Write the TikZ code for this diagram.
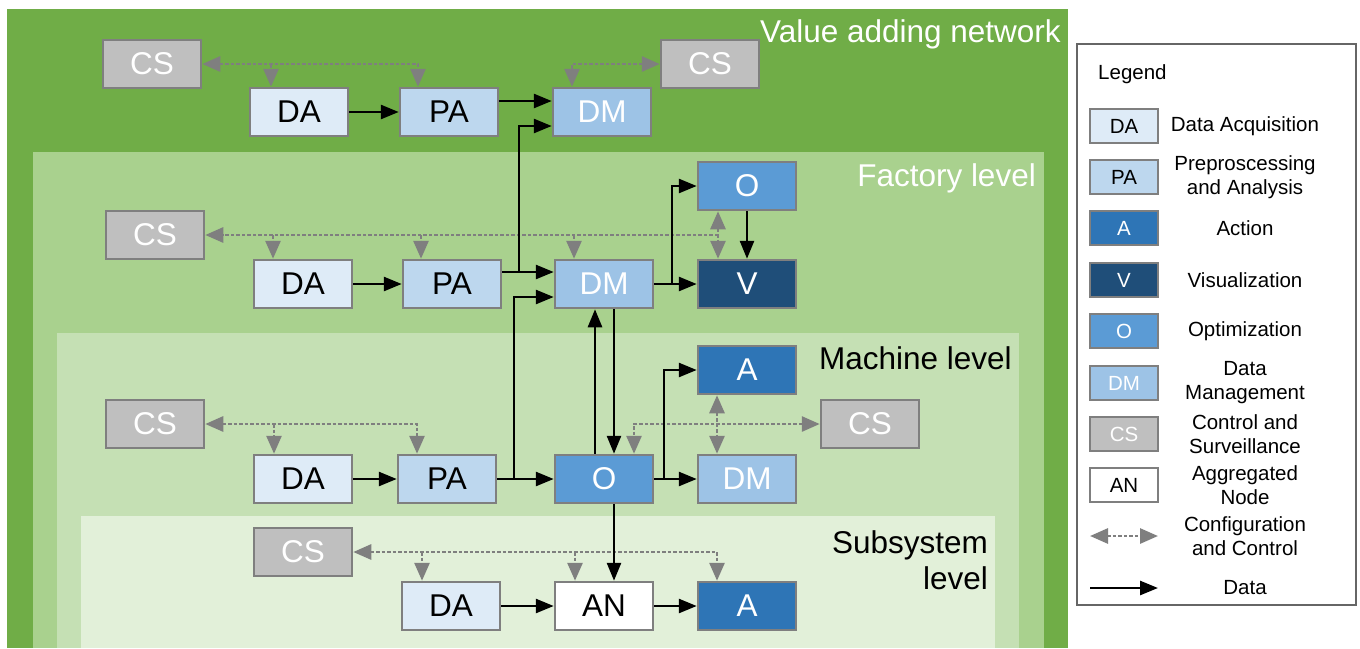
\documentclass[tikz,border=0pt]{standalone}
\usepackage{fontspec}
\setmainfont{Liberation Sans}
\usetikzlibrary{arrows.meta}
\definecolor{gA}{HTML}{70AD47}
\definecolor{gB}{HTML}{A9D18E}
\definecolor{gC}{HTML}{C5E0B4}
\definecolor{gD}{HTML}{E2F0D9}
\definecolor{cDA}{HTML}{DEEBF7}
\definecolor{cPA}{HTML}{BDD7EE}
\definecolor{cDM}{HTML}{9DC3E6}
\definecolor{cO}{HTML}{5B9BD5}
\definecolor{cA}{HTML}{2E75B6}
\definecolor{cV}{HTML}{1F4E79}
\definecolor{cCS}{HTML}{BFBFBF}
\definecolor{bgray}{HTML}{7F7F7F}
\tikzset{
  box/.style={draw=bgray, line width=2.5pt, minimum width=98pt, minimum height=48pt, inner sep=0pt, font=\fontsize{31.5}{36}\selectfont},
  lbox/.style={draw=bgray, line width=2.5pt, minimum width=68pt, minimum height=34pt, inner sep=0pt, font=\fontsize{20.5}{24}\selectfont},
  bDA/.style={fill=cDA, text=black},
  bPA/.style={fill=cPA, text=black},
  bDM/.style={fill=cDM, text=white},
  bO/.style={fill=cO, text=white},
  bA/.style={fill=cA, text=white},
  bV/.style={fill=cV, text=white},
  bCS/.style={fill=cCS, text=white},
  bAN/.style={fill=white, text=black},
  data/.style={line width=2.7pt, draw=black, -{Triangle[length=18pt,width=14pt]}},
  cfg/.style={line width=2.8pt, draw=bgray, dash pattern=on 3.5pt off 2pt, {Triangle[length=18pt,width=15pt]}-{Triangle[length=18pt,width=15pt]}},
  cfgd/.style={line width=2.8pt, draw=bgray, dash pattern=on 3.5pt off 2pt, -{Triangle[length=18pt,width=15pt]}},
  lvl/.style={font=\fontsize{31.5}{36}\selectfont, anchor=east, inner sep=0pt},
  ltxt/.style={font=\fontsize{20.5}{24}\selectfont, align=center, inner sep=0pt},
}
\begin{document}
\begin{tikzpicture}[x=1pt,y=-1pt]
\useasboundingbox (0,0) rectangle (1360,648);
\fill[white] (0,0) rectangle (1360,648);
% level backgrounds
\fill[gA] (7,9) rectangle (1068,648);
\fill[gB] (33,152) rectangle (1044,648);
\fill[gC] (57,333) rectangle (1019,648);
\fill[gD] (81,516) rectangle (995,648);
\node[lvl, text=white] (tV) at (1061,34) {Value adding network};
\node[lvl, text=white] (tF) at (1036,178) {Factory level};
\node[lvl, text=black] (tM) at (1012,358) {Machine level};
\node[lvl, text=black, align=right] (tS) at (988,560) {Subsystem\\level};
% value adding network
\node[box,bCS] (vCS1) at (152,64) {CS};
\node[box,bDA] (vDA) at (299,112) {DA};
\node[box,bPA] (vPA) at (449,112) {PA};
\node[box,bDM] (vDM) at (602,112) {DM};
\node[box,bCS] (vCS2) at (710,64) {CS};
% factory
\node[box,bCS] (fCS) at (155,235) {CS};
\node[box,bDA] (fDA) at (303,284) {DA};
\node[box,bPA] (fPA) at (452,284) {PA};
\node[box,bDM] (fDM) at (604,284) {DM};
\node[box,bO] (fO) at (747,186) {O};
\node[box,bV] (fV) at (747,284) {V};
% machine
\node[box,bCS] (mCS1) at (155,424) {CS};
\node[box,bDA] (mDA) at (303,479) {DA};
\node[box,bPA] (mPA) at (447,479) {PA};
\node[box,bO] (mO) at (604,479) {O};
\node[box,bA] (mA) at (747,370) {A};
\node[box,bDM] (mDM) at (747,479) {DM};
\node[box,bCS] (mCS2) at (870,424) {CS};
% subsystem
\node[box,bCS] (sCS) at (303,552) {CS};
\node[box,bDA] (sDA) at (451,606) {DA};
\node[box,bAN] (sAN) at (604,606) {AN};
\node[box,bA] (sA) at (747,606) {A};
% junction coordinates
\coordinate (j1) at (519,272);
\coordinate (j2) at (514,479);
\coordinate (j3) at (672,284);
\coordinate (j4) at (664,479);
% ---- configuration / control (gray dashed)
\draw[cfg] (vCS1.east) -| ([xshift=-31pt]vPA.north);
\draw[cfgd] ([xshift=-28pt]vDA.north |- vCS1.east) -- ([xshift=-28pt]vDA.north);
\draw[cfg] (vCS2.west) -| ([xshift=-30pt]vDM.north);
\coordinate (fE) at ([xshift=-29pt]fO.south |- fCS.east);
\draw[cfgd] (fE) -- (fCS.east);
\draw[cfgd] ([xshift=-30pt]fDA.north |- fCS.east) -- ([xshift=-30pt]fDA.north);
\draw[cfgd] ([xshift=-31pt]fPA.north |- fCS.east) -- ([xshift=-31pt]fPA.north);
\draw[cfgd] ([xshift=-30pt]fDM.north |- fCS.east) -- ([xshift=-30pt]fDM.north);
\draw[cfg] ([xshift=-29pt]fO.south) -- ([xshift=-29pt]fV.north);
\draw[cfg] (mCS1.east) -| ([xshift=-30pt]mPA.north);
\draw[cfgd] ([xshift=-29pt]mDA.north |- mCS1.east) -- ([xshift=-29pt]mDA.north);
\draw[cfg] (mCS2.west) -| ([xshift=30pt]mO.north);
\draw[cfg] ([xshift=-30pt]mA.south) -- ([xshift=-30pt]mDM.north);
\draw[cfg] (sCS.east) -| ([xshift=-30pt]sA.north);
\draw[cfgd] ([xshift=-29pt]sDA.north |- sCS.east) -- ([xshift=-29pt]sDA.north);
\draw[cfgd] ([xshift=-29pt]sAN.north |- sCS.east) -- ([xshift=-29pt]sAN.north);
% ---- data (black)
\draw[data] (vDA) -- (vPA);
\draw[data] ([yshift=11pt]vPA.east) -- ([yshift=11pt]vDM.west);
\draw[data] (fDA) -- (fPA);
\draw[data] ([yshift=12pt]fPA.east) -- ([yshift=12pt]fDM.west);
\draw[data] (j1) |- ([yshift=-14pt]vDM.west);
\draw[data] (j2) |- ([yshift=-13pt]fDM.west);
\draw[data] (fDM) -- (fV);
\draw[data] (j3) |- (fO.west);
\draw[data] (fO) -- (fV);
\draw[data] ([xshift=-9pt]mO.north) -- ([xshift=-9pt]fDM.south);
\draw[data] ([xshift=10pt]fDM.south) -- ([xshift=10pt]mO.north);
\draw[data] (mDA) -- (mPA);
\draw[data] (mPA) -- (mO);
\draw[data] (mO) -- (mDM);
\draw[data] (j4) |- (mA.west);
\draw[data] ([xshift=10pt]mO.south) -- ([xshift=10pt]sAN.north);
\draw[data] (sDA) -- (sAN);
\draw[data] (sAN) -- (sA);
% ---- legend
\node[draw=bgray!80!black, line width=1.5pt, minimum width=279pt, minimum height=561pt, inner sep=0pt] (leg) at (1216.5,324.5) {};
\node[font=\fontsize{20.5}{24}\selectfont, anchor=west, inner sep=0pt] (legT) at (1098,74) {Legend};
\node[lbox,bDA] (lDA) at (1124,126) {DA};
\node[ltxt] (tDA) at (1245,126) {Data Acquisition};
\node[lbox,bPA] (lPA) at (1124,177) {PA};
\node[ltxt] (tPA) at (1245,177) {Preproscessing\\and Analysis};
\node[lbox,bA] (lA) at (1124,228) {A};
\node[ltxt] (tA) at (1245,228) {Action};
\node[lbox,bV] (lV) at (1124,280) {V};
\node[ltxt] (tVz) at (1245,280) {Visualization};
\node[lbox,bO] (lO) at (1124,331) {O};
\node[ltxt] (tO) at (1245,331) {Optimization};
\node[lbox,bDM] (lDM) at (1124,383) {DM};
\node[ltxt] (tDM) at (1245,383) {Data\\Management};
\node[lbox,bCS] (lCS) at (1124,434) {CS};
\node[ltxt] (tCS) at (1245,434) {Control and\\Surveillance};
\node[lbox,bAN] (lAN) at (1124,485) {AN};
\node[ltxt] (tAN) at (1245,485) {Aggregated\\Node};
\coordinate (lc1) at (1090,536);
\coordinate (lc2) at (1158,536);
\draw[cfg] (lc1) -- (lc2);
\node[ltxt] (tC) at (1245,536) {Configuration\\and Control};
\coordinate (ld1) at (1090,588);
\coordinate (ld2) at (1158,588);
\draw[data] (ld1) -- (ld2);
\node[ltxt] (tD) at (1245,588) {Data};
\end{tikzpicture}
\end{document}
